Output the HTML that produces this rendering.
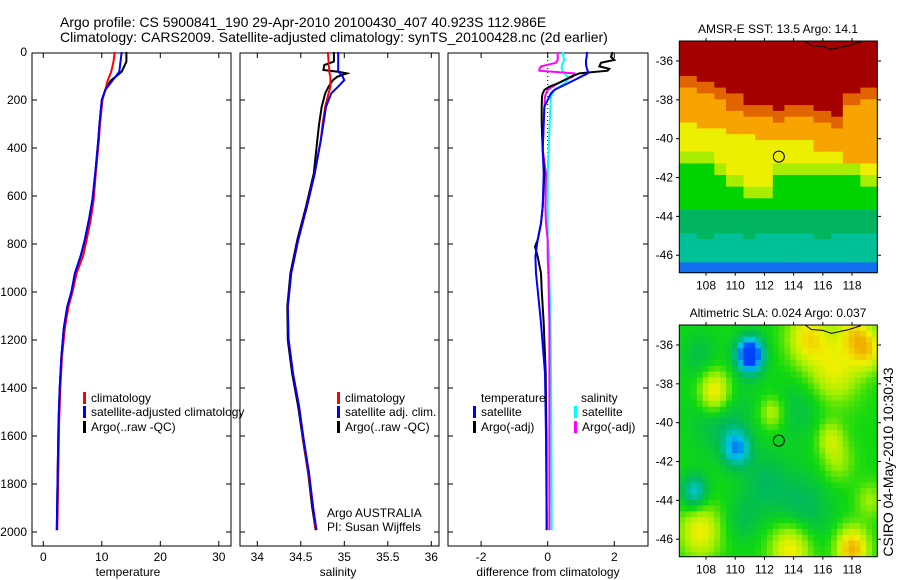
<!DOCTYPE html>
<html><head><meta charset="utf-8">
<style>
html,body{margin:0;padding:0;background:#fff;}
svg{display:block;font-family:"Liberation Sans",sans-serif;}
</style></head>
<body>
<svg id="fig" width="900" height="580" viewBox="0 0 900 580" xmlns="http://www.w3.org/2000/svg">
<text x="60" y="27" font-size="14">Argo profile: CS 5900841_190 29-Apr-2010 20100430_407 40.923S 112.986E</text>
<text x="60" y="42" font-size="14">Climatology: CARS2009. Satellite-adjusted climatology: synTS_20100428.nc (2d earlier)</text>
<g id="g1"></g>
<g id="g2"></g>
<g id="g3"></g>
<g id="m1"></g>
<g id="m2"></g>
<text x="893" y="462" font-size="14" text-anchor="middle" transform="rotate(-90 893 462)">CSIRO 04-May-2010 10:30:43</text>
</svg>
<script>
// ---- profile data ----
const tDepth = [0,40,82,120,158,200,300,367,500,617,700,783,850,922,1000,1061,1150,1269,1400,1547,1700,1850,1992];
const tClim = [12.2,12.0,11.6,11.0,10.6,10.1,9.7,9.5,9.0,8.6,8.1,7.4,6.8,5.7,5.0,4.3,3.7,3.2,2.9,2.7,2.6,2.5,2.4];
const tSat = [13.4,13.2,13.0,11.8,10.6,10.0,9.6,9.4,8.9,8.4,7.8,7.1,6.4,5.4,4.8,4.1,3.5,3.1,2.8,2.6,2.5,2.4,2.3];
const tArgo = [14.2,14.2,13.4,11.5,10.6,10.0,9.6,9.4,8.9,8.4,7.8,7.1,6.4,5.4,4.8,4.1,3.5,3.1,2.8,2.6,2.5,2.4,2.3];
const sDepth = [0,40,54,75,82,89,103,117,144,172,228,300,367,506,644,783,922,1061,1200,1339,1478,1617,1756,1894,1992];
const sArgo = [34.88,34.88,34.77,34.76,34.93,35.03,34.92,34.87,34.82,34.78,34.74,34.71,34.69,34.65,34.56,34.46,34.38,34.345,34.35,34.40,34.47,34.525,34.585,34.63,34.67];
const sSat = [34.93,34.93,34.93,34.93,34.93,34.95,34.98,35.00,34.93,34.85,34.79,34.76,34.73,34.66,34.57,34.47,34.39,34.35,34.36,34.41,34.48,34.535,34.595,34.64,34.68];
const sClim = [34.81,34.82,34.82,34.83,34.83,34.83,34.84,34.84,34.84,34.82,34.78,34.75,34.73,34.66,34.57,34.47,34.39,34.35,34.36,34.41,34.48,34.53,34.59,34.64,34.67];
const dDepth = [0,20,33,45,60,70,78,89,103,117,131,144,158,172,186,228,297,408,506,644,714,783,811,853,922,992,1130,1339,1600,1992];
const dTSat = [1.18,1.17,1.15,1.15,1.16,1.18,1.2,1.2,1.0,0.8,0.6,0.4,0.2,0.1,0.05,-0.1,-0.12,-0.15,-0.12,-0.15,-0.2,-0.3,-0.33,-0.37,-0.35,-0.3,-0.2,-0.08,-0.05,-0.03];
const dTArgo = [1.95,1.9,2.0,1.6,1.55,1.85,1.8,0.95,0.7,0.5,0.3,0.05,-0.1,-0.15,-0.17,-0.18,-0.18,-0.15,-0.1,-0.15,-0.2,-0.3,-0.38,-0.3,-0.2,-0.18,-0.12,-0.06,-0.04,-0.03];
const dSSat = [0.45,0.47,0.5,0.45,0.42,0.42,0.45,0.5,0.6,0.6,0.5,0.35,0.2,0.15,0.1,0.08,0.06,0.03,0.0,0.0,0.0,0.0,0.02,0.05,0.05,0.06,0.08,0.1,0.11,0.12];
const dSArgo = [0.3,0.3,0.3,0.25,-0.2,-0.25,-0.25,0.8,0.75,0.5,0.3,0.15,0.0,-0.05,-0.08,-0.1,-0.12,-0.15,-0.05,-0.07,-0.05,0.0,0.0,0.0,0.02,0.03,0.05,0.05,0.05,0.05];
const depthTicks = [0,200,400,600,800,1000,1200,1400,1600,1800,2000];
const tTicks = [0,10,20,30];
const sTicks = [34,34.5,35,35.5,36];
const dTicks = [-2,0,2];
// ---- map data (band boundary latitudes at lon 107..119) ----
const mapLons = [107,108,109,110,111,112,113,114,115,116,117,118,119];
const sstDarkRedBottom = [-36.8,-37.0,-37.3,-37.8,-38.2,-38.3,-38.5,-38.3,-38.3,-38.5,-38.8,-37.6,-37.4];
const sstOrangeBottom = [-39.2,-39.5,-39.5,-39.7,-39.8,-40.0,-40.0,-40.0,-40.2,-40.6,-40.8,-41.2,-41.4];
const sstYellowBottom = [-41.3,-41.3,-41.8,-42.6,-43.0,-43.1,-41.8,-42.0,-42.0,-42.0,-42.0,-42.0,-42.4];
const sstGreenBottom = [-43.6,-43.8,-43.8,-43.8,-43.8,-43.8,-43.8,-43.8,-43.8,-43.8,-43.8,-43.8,-43.8];
const sstTealBottom = [-45.0,-45.2,-45.0,-45.0,-45.3,-45.0,-44.8,-45.0,-45.0,-45.2,-45.0,-45.0,-45.0];
const sstCyanBottom = [-46.5,-46.5,-46.5,-46.5,-46.5,-46.5,-46.5,-46.5,-46.5,-46.5,-46.5,-46.5,-46.5];
const slaBlobLon = [111,108.6,110.1,107.2,116.8,115,119,118,112.5,116.5,107.6,113.8,118,114.6,112,117,109,119.2,114.5,110.5,107.5];
const slaBlobLat = [-36.5,-38.4,-41.3,-43.6,-37.3,-35.6,-36.2,-35.3,-39.5,-40.8,-45.6,-46.5,-46.5,-44.5,-43,-42,-39.6,-44,-39.3,-45,-36.5];
const slaBlobRad = [0.9,1.1,0.9,0.9,1.7,1.4,1.1,1.1,0.8,0.9,1.4,1.4,1.1,2.0,1.6,1.1,2.0,0.9,1.6,1.2,1.2];
const slaBlobAmp = [-1.3,0.8,-0.7,-0.6,0.55,0.65,0.7,0.5,0.4,0.4,0.6,0.7,0.9,-0.3,-0.25,0.3,-0.3,0.3,-0.2,-0.2,-0.2];

const NS='http://www.w3.org/2000/svg';
function mk(parent,tag,attrs,txt){const e=document.createElementNS(NS,tag);for(const k in attrs)e.setAttribute(k,attrs[k]);if(txt!==undefined)e.textContent=txt;parent.appendChild(e);return e;}

const PT=53, PB=546;
const yD = d => 52 + d*0.24;

function panel(g,L,R,xs,ticks,label,labelX,showY,name){
  const fr=mk(g,'rect',{x:L,y:PT,width:R-L,height:PB-PT,fill:'none',stroke:'#000','stroke-width':1});
  
  
  depthTicks.forEach(d=>{
    const y=yD(d);
    if(d>0){mk(g,'line',{x1:L,x2:L+5,y1:y,y2:y,stroke:'#000'});mk(g,'line',{x1:R-5,x2:R,y1:y,y2:y,stroke:'#000'});}
    if(showY){const t=mk(g,'text',{x:L-5,y:y+4,'font-size':12,'text-anchor':'end'},String(d));
      
      }
  });
  ticks.forEach(v=>{
    const x=xs(v);
    mk(g,'line',{x1:x,x2:x,y1:PB,y2:PB-5,stroke:'#000'});mk(g,'line',{x1:x,x2:x,y1:PT,y2:PT+5,stroke:'#000'});
    const t=mk(g,'text',{x:x,y:PB+15,'font-size':12,'text-anchor':'middle'},String(v));
    
    
  });
  const lb=mk(g,'text',{x:labelX,y:576,'font-size':12,'text-anchor':'middle'},label);
  
  
}
function line(g,xs,depths,vals,color,name){
  const pts=depths.map((d,i)=>xs(vals[i]).toFixed(1)+','+yD(d).toFixed(1)).join(' ');
  const p=mk(g,'polyline',{points:pts,fill:'none',stroke:color,'stroke-width':2});
  
  
}
function legend(g,x,y,color,txt,name){
  mk(g,'rect',{x:x,y:y-10,width:3,height:12,fill:color});
  const t=mk(g,'text',{x:x+8,y:y,'font-size':12},txt);
  
  
}

const g1=document.getElementById('g1');
const xT=v=>43.3+v*5.85;
panel(g1,32,231,xT,tTicks,'temperature',128,true,'temperature');
line(g1,xT,tDepth,tArgo,'#000','temp-argo-line');
line(g1,xT,tDepth,tClim,'#f00','temp-climatology-line');
line(g1,xT,tDepth,tSat,'#00f','temp-satellite-line');
legend(g1,83,402,'#f00','climatology','legend-climatology');
legend(g1,83,416,'#00f','satellite-adjusted climatology','legend-satellite');
legend(g1,83,431,'#000','Argo(..raw -QC)','legend-argo');

const g2=document.getElementById('g2');
const xS=v=>257.3+(v-34)*87;
panel(g2,240,439,xS,sTicks,'salinity',338,false,'salinity');
line(g2,xS,sDepth,sArgo,'#000','sal-argo-line');
line(g2,xS,sDepth,sClim,'#f00','sal-climatology-line');
line(g2,xS,sDepth,sSat,'#00f','sal-satellite-line');
legend(g2,337,402,'#f00','climatology','legend2-climatology');
legend(g2,337,416,'#00f','satellite adj. clim.','legend2-satellite');
legend(g2,337,431,'#000','Argo(..raw -QC)','legend2-argo');
const a1=mk(g2,'text',{x:327,y:517,'font-size':12},'Argo AUSTRALIA');


const a2=mk(g2,'text',{x:327,y:531,'font-size':12},'PI: Susan Wijffels');



const g3=document.getElementById('g3');
const xDf=v=>547.7+v*33.3;
panel(g3,448,648,xDf,dTicks,'difference from climatology',548,false,'difference');
mk(g3,'line',{x1:xDf(0),x2:xDf(0),y1:yD(0),y2:yD(930),stroke:'#000','stroke-dasharray':'1,3'});
line(g3,xDf,dDepth,dSSat,'#0ff','diff-sal-satellite-line');
line(g3,xDf,dDepth,dSArgo,'#f0f','diff-sal-argo-line');
line(g3,xDf,dDepth,dTArgo,'#000','diff-temp-argo-line');
line(g3,xDf,dDepth,dTSat,'#00f','diff-temp-satellite-line');
const lt=mk(g3,'text',{x:481,y:402,'font-size':12},'temperature');


const ls=mk(g3,'text',{x:581,y:402,'font-size':12},'salinity');


legend(g3,473,416,'#00f','satellite','legend3-temp-satellite');
legend(g3,473,431,'#000','Argo(-adj)','legend3-temp-argo');
legend(g3,574,416,'#0ff','satellite','legend3-sal-satellite');
legend(g3,574,431,'#f0f','Argo(-adj)','legend3-sal-argo');

const LON0=106.17, LON1=119.73, LAT0=-34.97, LAT1=-46.9;
function bnd(arr,lon){let i=Math.round(lon-107);i=Math.max(0,Math.min(12,i));return arr[i];}
function sstColor(lon,lat){
  if(lat>bnd(sstDarkRedBottom,lon))return '#a50000';
  if(lat>bnd(sstDarkRedBottom,lon)-0.7)return '#e06400';
  if(lat>bnd(sstOrangeBottom,lon))return '#f8a400';
  if(lat>bnd(sstYellowBottom,lon)+0.6)return '#ecf000';
  if(lat>bnd(sstYellowBottom,lon))return '#a8ec00';
  if(lat>bnd(sstGreenBottom,lon))return '#00d400';
  if(lat>bnd(sstTealBottom,lon))return '#00b460';
  if(lat>bnd(sstCyanBottom,lon))return '#00c098';
  return '#1070f0';
}
const slaStops=[[-1.0,[0,64,255]],[-0.6,[0,200,224]],[-0.3,[0,184,96]],[0,[16,216,16]],[0.3,[160,240,0]],[0.6,[240,240,0]],[0.9,[240,176,0]]];
function slaColor(v){
  if(v<=slaStops[0][0])return 'rgb('+slaStops[0][1]+')';
  for(let i=1;i<slaStops.length;i++){if(v<=slaStops[i][0]){const a=slaStops[i-1],b=slaStops[i];const t=(v-a[0])/(b[0]-a[0]);return 'rgb('+a[1].map((c,k)=>Math.round(c+(b[1][k]-c)*t)).join(',')+')';}}
  return 'rgb('+slaStops[slaStops.length-1][1]+')';
}
function drawMap(id,top,bot,title,colorFn,name){
  const g=document.getElementById(id);
  const mx=lon=>679.3+(lon-LON0)*(198/(LON1-LON0));
  const my=lat=>top+(LAT0-lat)*((bot-top)/(LAT0-LAT1));
  const cells=mk(g,'g',{});
  
  
  const dLon=0.4,dLat=0.3;
  for(let lat=LAT0;lat>LAT1-0.001;lat-=dLat){
    for(let lon=LON0;lon<LON1;lon+=dLon){
      const x=mx(lon),y=my(lat);
      mk(cells,'rect',{x:x.toFixed(1),y:y.toFixed(1),width:(mx(lon+dLon)-x+0.6).toFixed(1),height:(my(lat-dLat)-y+0.6).toFixed(1),fill:colorFn(lon+dLon/2,lat-dLat/2)});
    }
  }
  mk(g,'rect',{x:877.6,y:top-2,width:4,height:bot-top+4,fill:'#fff'});
  mk(g,'rect',{x:676,y:bot+0.5,width:206,height:4,fill:'#fff'});
  const cst=mk(g,'polyline',{points:[[114.8,-34.97],[115.2,-35.2],[116,-35.25],[116.6,-35.4],[117.2,-35.3],[117.8,-35.2],[118.6,-35.0]].map(p=>mx(p[0]).toFixed(1)+','+my(p[1]).toFixed(1)).join(' '),fill:'none',stroke:'#000','stroke-width':1});
  
  
  const fr=mk(g,'rect',{x:679.3,y:top,width:198,height:bot-top,fill:'none',stroke:'#000'});
  
  
  [108,110,112,114,116,118].forEach(l=>{
    const x=mx(l);
    mk(g,'line',{x1:x,x2:x,y1:top,y2:top-3,stroke:'#000'});
    mk(g,'line',{x1:x,x2:x,y1:bot,y2:bot+3,stroke:'#000'});
    const t=mk(g,'text',{x:x,y:bot+17,'font-size':12,'text-anchor':'middle'},String(l));
    
    
  });
  [-36,-38,-40,-42,-44,-46].forEach(l=>{
    const y=my(l);
    mk(g,'line',{x1:679.3,x2:676,y1:y,y2:y,stroke:'#000'});
    mk(g,'line',{x1:877.3,x2:881,y1:y,y2:y,stroke:'#000'});
    const t=mk(g,'text',{x:673,y:y+4,'font-size':12,'text-anchor':'end'},String(l));
    
    
  });
  const c=mk(g,'circle',{cx:mx(112.986),cy:my(-40.923),r:5.5,fill:'none',stroke:'#000','stroke-width':1});
  
  
  const tt=mk(g,'text',{x:778,y:top-8,'font-size':12,'text-anchor':'middle'},title);
  
  
}
drawMap('m1',41,272.7,'AMSR-E SST: 13.5 Argo: 14.1',sstColor,'sst-map');
drawMap('m2',325,556.7,'Altimetric SLA: 0.024 Argo: 0.037',(lon,lat)=>{
  let v=0;
  for(let i=0;i<slaBlobLon.length;i++){
    const dx=(lon-slaBlobLon[i])/slaBlobRad[i],dy=(lat-slaBlobLat[i])/slaBlobRad[i];
    v+=slaBlobAmp[i]*Math.exp(-(dx*dx+dy*dy));
  }
  return slaColor(v);
},'sla-map');
</script>
</body></html>
